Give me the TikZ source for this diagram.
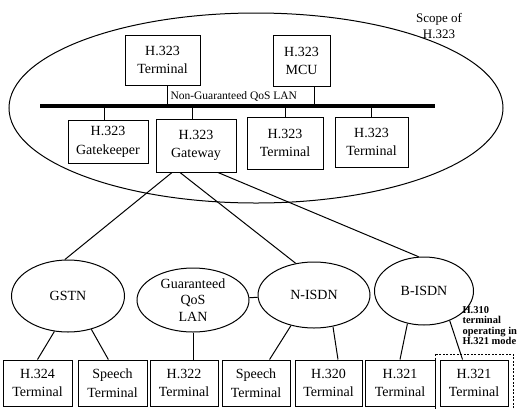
\documentclass[tikz,border=0pt]{standalone}
\usepackage{fontspec}
\setmainfont{Liberation Serif}
\usetikzlibrary{shapes.geometric}
\newcommand{\tm}{Terminal}
\newcommand{\hh}{H.323}

\begin{document}
\begin{tikzpicture}[x=1pt,y=-1pt,line width=1pt,
    box/.style={draw,rectangle,align=center,inner sep=0pt,font=\fontsize{14}{18.5}\selectfont},
    net/.style={draw,ellipse,align=center,inner sep=0pt,font=\fontsize{14}{16.5}\selectfont}]
      \useasboundingbox (0,0) rectangle (522,408);
      \node [ellipse,draw,minimum width=494pt,minimum height=190pt] (0) at (256,108) {};
      \node [align=center,font=\fontsize{13}{16}\selectfont] (s) at (439,26) {Scope of\\\hh};

      \node [box,minimum width=75pt,minimum height=50pt] (1) at (162.5,60) {\hh\\\tm};
      \node [box,minimum width=57pt,minimum height=51pt] (2) at (301.5,61) {\hh\\MCU};
      \coordinate (bl) at (40,106);
      \coordinate (br) at (435,106);
      \draw [line width=4pt] (bl) -- (br);
      \node [anchor=west,inner sep=1pt,font=\fontsize{11.5}{12}\selectfont] (lan) at (169,96) {Non-Guaranteed QoS LAN};
      \node [box,minimum width=80pt,minimum height=43pt] (3) at (108,142) {\hh\\Gatekeeper};
      \node [box,minimum width=80pt,minimum height=53pt] (4) at (196,145.5) {\hh\\Gateway};
      \node [box,minimum width=76pt,minimum height=52pt] (5) at (285,143) {\hh\\\tm};
      \node [box,minimum width=73pt,minimum height=50pt] (6) at (371.5,142) {\hh\\\tm};

      \draw ([xshift=4.5pt]1.south) -- ([xshift=4.5pt]1.south |- bl);
      \draw ([xshift=12.5pt]2.south) -- ([xshift=12.5pt]2.south |- bl);
      \draw ([xshift=-4pt]3.north) -- ([xshift=-4pt]3.north |- bl);
      \draw ([xshift=-4pt]4.north) -- ([xshift=-4pt]4.north |- bl);
      \draw (5.north) -- (5.north |- bl);
      \draw (6.north) -- (6.north |- bl);

      \node [net,minimum width=113pt,minimum height=72pt] (7) at (68,296) {GSTN};
      \node [net,minimum width=112pt,minimum height=64pt] (8) at (193,300) {Guaranteed\\QoS\\LAN};
      \node [net,minimum width=112pt,minimum height=66pt] (9) at (314,295) {N-ISDN};
      \node [net,minimum width=99pt,minimum height=68pt] (10) at (424,291) {B-ISDN};

      \draw ([xshift=-24pt]4.south) -- (7.95);
      \draw ([xshift=-16pt]4.south) -- (9.120);
      \draw ([xshift=22pt]4.south) -- (10.99);
      \draw (8) -- (9);

      \node [box,minimum width=69pt,minimum height=46pt] (11) at (37.5,383) {H.324\\\tm};
      \node [box,minimum width=69pt,minimum height=46pt] (12) at (112.5,383) {Speech\\\tm};
      \node [box,minimum width=68pt,minimum height=46pt] (13) at (184,383) {H.322\\\tm};
      \node [box,minimum width=68pt,minimum height=46pt] (14) at (256,383) {Speech\\\tm};
      \node [box,minimum width=67pt,minimum height=46pt] (15) at (328.5,383) {H.320\\\tm};
      \node [box,minimum width=70pt,minimum height=46pt] (16) at (400,383) {H.321\\\tm};
      \node [box,minimum width=68pt,minimum height=46pt] (17) at (474,383) {H.321\\\tm};

      \draw (7.249) -- (11.north);
      \draw (7.305) -- (12.100);
      \draw (8.south) -- (8.south |- 13.north);
      \draw (9.233) -- (14.60);
      \draw (9.301) -- (15.68);
      \draw (10.243) -- (16.north);
      \draw (10.311) -- (17.116);

      \draw [line width=0.9pt,dash pattern=on 2pt off 1.5pt] (435,354) rectangle (513,412);
      \node [anchor=north west,align=left,inner sep=0pt,font=\bfseries\fontsize{10.5}{10.5}\selectfont] (h310) at (462,306) {H.310\\terminal\\operating in\\H.321 mode};
    \end{tikzpicture}
\end{document}
